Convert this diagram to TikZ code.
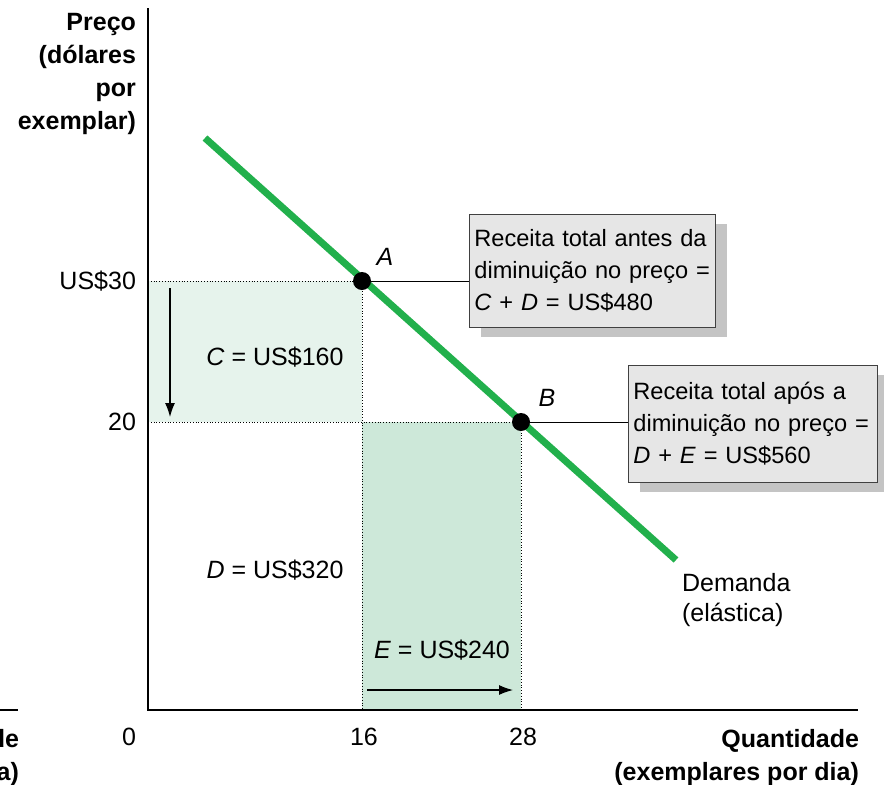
\documentclass[tikz,border=0pt]{standalone}
\usepackage{fontspec}
\setmainfont{Liberation Sans}
\usetikzlibrary{positioning,arrows.meta,shadows}
\definecolor{demandgreen}{HTML}{22B04C}
\definecolor{areaC}{HTML}{E6F3EC}
\definecolor{areaE}{HTML}{CDE8D9}
\definecolor{boxgray}{HTML}{E6E6E6}
\definecolor{shadowgray}{HTML}{C4C4C4}
\tikzstyle{infobox} = [draw=black!75, fill=boxgray, thin,
    rectangle, align=left, anchor=north west, inner xsep=2.5pt,
    font=\fontsize{11.8}{16}\selectfont,
    drop shadow={shadow xshift=6pt, shadow yshift=-5pt, fill=shadowgray, opacity=1}]
\tikzstyle{guide} = [densely dotted, thin]
\tikzstyle{axislabel} = [font=\bfseries\fontsize{12.5}{16.5}\selectfont, align=right]
\tikzstyle{ticklabel} = [font=\fontsize{12.5}{15}\selectfont]
\tikzstyle{dot} = [circle, fill=black, inner sep=0pt, minimum size=9pt]
\tikzstyle{movearrow} = [-{Latex[length=7pt,width=5pt]}, semithick]

\begin{document}
\begin{tikzpicture}[x=0.5pt, y=-0.5pt]
\clip (0,0) rectangle (884,784);
% shaded revenue areas
\fill[areaC] (148,281) rectangle (362,422);
\fill[areaE] (362,422) rectangle (521,710);
\draw[guide] (148,281) -- (362,281) -- (362,710);
\draw[guide] (148,422) -- (521,422) -- (521,710);

% axes
\draw[semithick] (148,8) -- (148,710) -- (858,710);
\node[axislabel, anchor=north east] (ylab) at (143,6) {Preço\\(dólares\\por\\exemplar)};
\node[axislabel, anchor=north east] (xlab) at (866,722) {Quantidade\\(exemplares por dia)};
\node[ticklabel] (t0) at (129,737) {0};
\node[ticklabel] (t16) at (364,737) {16};
\node[ticklabel] (t28) at (523,737) {28};
\node[ticklabel, anchor=east] (p30) at (143,281) {US\$30};
\node[ticklabel, anchor=east] (p20) at (143,422) {20};

% cut-off neighbour
\node[axislabel, anchor=north east] (cut) at (26,722) {de\\a)};
\draw[semithick] (0,710) -- (18,710);

% demand curve
\coordinate (dtop) at (205,138);
\coordinate (dbot) at (676,560);
\draw[demandgreen, line width=3.5pt] (dtop) -- (dbot);
\node[ticklabel, anchor=north west, align=left] (dem) at (675,566) {Demanda\\(elástica)};

\node[dot] (A) at (362,281) {};
\node[dot] (B) at (521,422) {};
\node[ticklabel, font=\fontsize{12.5}{15}\selectfont\itshape] (lA) at (385,257) {A};
\node[ticklabel, font=\fontsize{12.5}{15}\selectfont\itshape] (lB) at (547,398) {B};

% revenue boxes
\node[infobox, text width=118pt, minimum height=56.5pt] (box1) at (469,214)
    {Receita total antes da\\diminuição no preço =\\\textit{C} + \textit{D} = US\$480};
\node[infobox, text width=119.5pt, minimum height=58.5pt] (box2) at (628,365)
    {Receita total após a\\diminuição no preço =\\\textit{D} + \textit{E} = US\$560};
\draw[thin] (A) -- (A -| box1.west);
\draw[thin] (B) -- (B -| box2.west);

% area labels
\node[ticklabel] (cC) at (275,357) {\textit{C} = US\$160};
\node[ticklabel] (cD) at (275,570) {\textit{D} = US\$320};
\node[ticklabel] (cE) at (442,650) {\textit{E} = US\$240};
\coordinate (down1) at (170,288);
\coordinate (down2) at (170,417);
\coordinate (right1) at (367,690);
\coordinate (right2) at (513,690);
\draw[movearrow] (down1) -- (down2);
\draw[movearrow] (right1) -- (right2);
\end{tikzpicture}
\end{document}
